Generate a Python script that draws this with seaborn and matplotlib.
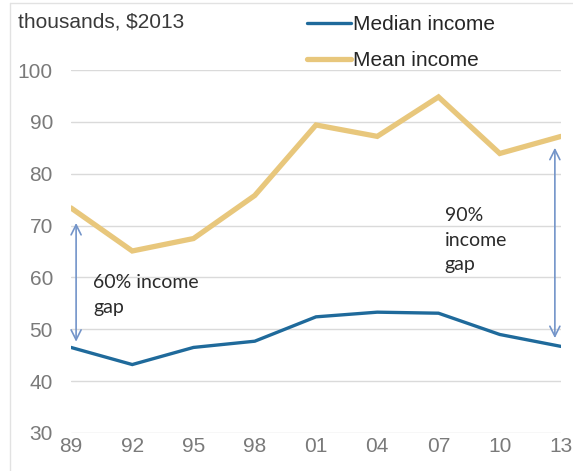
import matplotlib
matplotlib.use("Agg")
import matplotlib.pyplot as plt
import seaborn as sns
import pandas as pd

# Survey years and income series (thousands of 2013 dollars)
years = [1989, 1992, 1995, 1998, 2001, 2004, 2007, 2010, 2013]
year_labels = ["89", "92", "95", "98", "01", "04", "07", "10", "13"]
median_income = [46.5, 43.2, 46.5, 47.7, 52.4, 53.3, 53.1, 49.0, 46.7]
mean_income = [73.4, 65.1, 67.5, 75.8, 89.4, 87.2, 94.8, 83.9, 87.2]
y_ticks = [30, 40, 50, 60, 70, 80, 90, 100]

series_names = ["Median income", "Mean income"]
series_colors = {"Median income": "#1f6a9b", "Mean income": "#e8c77c"}
series_widths = {"Median income": 2.4, "Mean income": 3.8}

df = pd.concat([
    pd.DataFrame({"year": years, "value": median_income, "series": "Median income"}),
    pd.DataFrame({"year": years, "value": mean_income, "series": "Mean income"}),
])

sns.set_theme(style="white")
plt.rcParams["font.family"] = ["Liberation Sans", "DejaVu Sans"]

W, H = 573, 471
fig = plt.figure(figsize=(W / 100, H / 100), dpi=100)
ax = fig.add_axes([71 / W, 1 - 433 / H, (561 - 71) / W, (433 - 70) / H])

for name in series_names:
    sns.lineplot(data=df[df["series"] == name], x="year", y="value",
                 color=series_colors[name], linewidth=series_widths[name],
                 ax=ax, label=name, solid_joinstyle="miter")

ax.set_xlim(1989, 2013)
ax.set_ylim(30, 100)
ax.set_xticks(years)
ax.set_xticklabels(year_labels)
ax.set_yticks(y_ticks)
ax.set_xlabel("")
ax.set_ylabel("")
ax.yaxis.grid(True, color="#dadada", linewidth=1.0)
ax.xaxis.grid(False)
for s in ax.spines.values():
    s.set_visible(False)
ax.tick_params(axis="both", length=0, labelsize=15, labelcolor="#7a7a7a")
ax.tick_params(axis="y", pad=13)
ax.tick_params(axis="x", pad=3)

# Legend in the top strip
leg = ax.legend(loc="upper left", bbox_to_anchor=(307 / W, 1 - 15 / H),
                bbox_transform=fig.transFigure, frameon=False,
                fontsize=15, handlelength=2.1, handletextpad=0.1,
                labelspacing=0.84, borderpad=0, borderaxespad=0)
for t in leg.get_texts():
    t.set_color("#262626")

fig.text(18 / W, 1 - 22 / H, "thousands, $2013", fontsize=15,
         color="#3a3a3a", va="center", ha="left")

# Income gap arrows between mean and median
arrow_color = "#7394c9"
ax.annotate("", xy=(1989.25, 47.6), xytext=(1989.25, 70.5),
            arrowprops=dict(arrowstyle="<->", color=arrow_color, lw=1.2,
                            mutation_scale=18, shrinkA=0, shrinkB=0))
ax.annotate("", xy=(2012.7, 48.3), xytext=(2012.7, 85.0),
            arrowprops=dict(arrowstyle="<->", color=arrow_color, lw=1.2,
                            mutation_scale=18, shrinkA=0, shrinkB=0))

ax.text(1990.08, 60.7, "60% income\ngap", family=["Lato", "DejaVu Sans"],
        fontsize=14, color="#2b2b2b", va="top", ha="left", linespacing=1.62)
ax.text(2007.3, 73.6, "90%\nincome\ngap", family=["Lato", "DejaVu Sans"],
        fontsize=14, color="#2b2b2b", va="top", ha="left", linespacing=1.55)

# Light frame around the panel
fig.add_artist(plt.Line2D([10 / W, 10 / W], [0, 1 - 3 / H],
                          transform=fig.transFigure, color="#e2e2e2", lw=1))
fig.add_artist(plt.Line2D([10 / W, 1], [1 - 3 / H, 1 - 3 / H],
                          transform=fig.transFigure, color="#e2e2e2", lw=1))

fig.savefig("out.png", dpi=100)
